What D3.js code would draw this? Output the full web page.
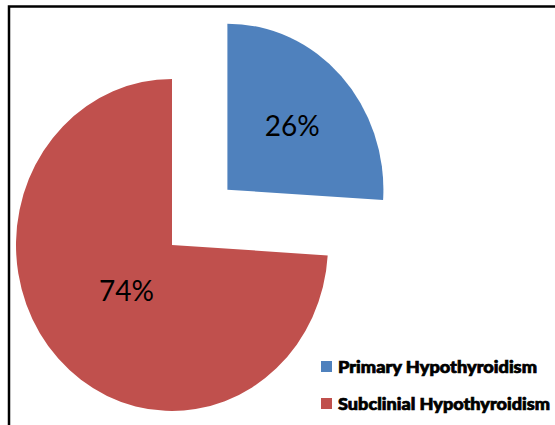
<!DOCTYPE html>
<html>
<head>
<meta charset="utf-8">
<script src="https://cdn.jsdelivr.net/npm/d3@7"></script>
<style>
  body { margin: 0; background: #fff; }
</style>
</head>
<body>
<div id="chart"></div>
<script>
// Chart data
const categories = ["Primary Hypothyroidism", "Subclinial Hypothyroidism"];
const percents = [26, 74];
const colors = ["#4F81BD", "#C0504D"];

const width = 555, height = 425;

const svg = d3
  .select("#chart")
  .append("svg")
  .attr("width", width)
  .attr("height", height);

// frame (right/bottom edges fall outside the picture)
svg
  .append("rect")
  .attr("x", 9)
  .attr("y", 6.5)
  .attr("width", 700)
  .attr("height", 600)
  .attr("fill", "none")
  .attr("stroke", "#000")
  .attr("stroke-width", 2.5);

const cx = 172, cy = 245;
const radius = 156;
const yStretch = 1.064; // the picture is slightly taller than wide
const explode = 76;

const pie = d3.pie().sort(null).value((d) => d)(percents);
const arc = d3.arc().innerRadius(0).outerRadius(radius);

// offset of each slice: only the first one is pulled out
const offset = (d, i) => {
  if (i !== 0) return [0, 0];
  const a = (d.startAngle + d.endAngle) / 2;
  return [Math.sin(a) * explode, -Math.cos(a) * explode];
};

const pieGroup = svg
  .append("g")
  .attr("transform", `translate(${cx},${cy}) scale(1,${yStretch})`);

pieGroup
  .selectAll(".slice")
  .data(pie)
  .enter()
  .append("path")
  .attr("class", "slice")
  .attr("transform", (d, i) => `translate(${offset(d, i)})`)
  .attr("d", arc)
  .style("fill", (d, i) => colors[i]);

// percent labels
const labelFrac = [0.57, 0.4];
svg
  .selectAll(".pctLabel")
  .data(pie)
  .enter()
  .append("text")
  .attr("class", "pctLabel")
  .attr("x", (d, i) => {
    const a = (d.startAngle + d.endAngle) / 2;
    return cx + offset(d, i)[0] + Math.sin(a) * radius * labelFrac[i];
  })
  .attr("y", (d, i) => {
    const a = (d.startAngle + d.endAngle) / 2;
    return cy + (offset(d, i)[1] - Math.cos(a) * radius * labelFrac[i]) * yStretch;
  })
  .attr("text-anchor", "middle")
  .attr("dominant-baseline", "central")
  .style("font-family", "Lato, 'Open Sans', sans-serif")
  .style("font-size", "28px")
  .style("fill", "#000")
  .text((d) => `${d.data}%`);

// legend
const legend = svg
  .selectAll(".legendItem")
  .data(categories)
  .enter()
  .append("g")
  .attr("class", "legendItem")
  .attr("transform", (d, i) => `translate(321,${361 + i * 37})`);

legend
  .append("rect")
  .attr("width", 11)
  .attr("height", 11)
  .style("fill", (d, i) => colors[i]);

legend
  .append("text")
  .attr("x", 17)
  .attr("y", 11.5)
  .attr("textLength", (d, i) => [199, 212][i])
  .attr("lengthAdjust", "spacingAndGlyphs")
  .style("font-family", "Lato, 'Open Sans', sans-serif")
  .style("font-weight", "900")
  .style("font-size", "16px")
  .style("fill", "#000")
  .style("stroke", "#000")
  .style("stroke-width", 0.7)
  .text((d) => d);
</script>
</body>
</html>
